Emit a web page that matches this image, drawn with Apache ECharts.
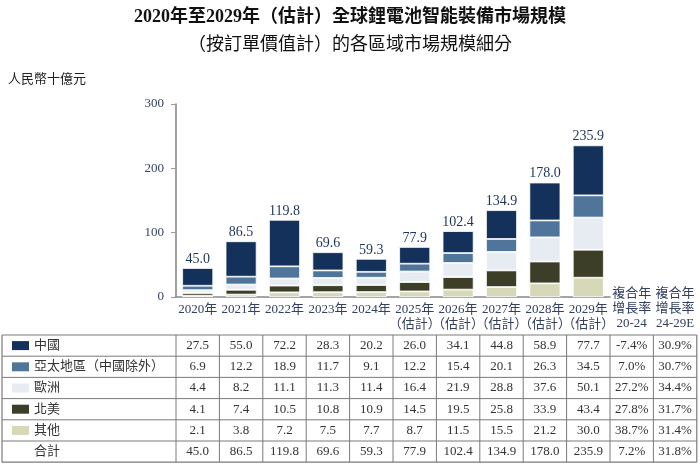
<!DOCTYPE html>
<html><head><meta charset="utf-8">
<script src="https://cdn.jsdelivr.net/npm/echarts@6/dist/echarts.min.js"></script>
<style>html,body{margin:0;padding:0;background:#fff}#c{width:700px;height:466px}</style>
</head><body><div id="c"></div>
<script>
const categories = ['2020年','2021年','2022年','2023年','2024年','2025年\n（估計）','2026年\n（估計）','2027年\n（估計）','2028年\n（估計）','2029年\n（估計）'];
const seriesNames = ['中國','亞太地區（中國除外）','歐洲','北美','其他'];
const china = [27.5,55.0,72.2,28.3,20.2,26.0,34.1,44.8,58.9,77.7];
const apac = [6.9,12.2,18.9,11.7,9.1,12.2,15.4,20.1,26.3,34.5];
const europe = [4.4,8.2,11.1,11.3,11.4,16.4,21.9,28.8,37.6,50.1];
const northAmerica = [4.1,7.4,10.5,10.8,10.9,14.5,19.5,25.8,33.9,43.4];
const others = [2.1,3.8,7.2,7.5,7.7,8.7,11.5,15.5,21.2,30.0];
const totals = [45.0,86.5,119.8,69.6,59.3,77.9,102.4,134.9,178.0,235.9];
const totalLabel = '合計';
const cagrHeaders = ['複合年\n增長率\n20-24','複合年\n增長率\n24-29E'];
const cagr2024 = ['-7.4%','7.0%','27.2%','27.8%','38.7%','7.2%'];
const cagr2429 = ['30.9%','30.7%','34.4%','31.7%','31.4%','31.8%'];
const yTicks = [0,100,200,300];
const titleLines = ['2020年至2029年（估計）全球鋰電池智能裝備市場規模','（按訂單價值計）的各區域市場規模細分'];
const unitLabel = '人民幣十億元';

const colors = ['#13315b','#50759a','#e7ecf2','#3d3e28','#d7d8b7'];
const FONT = '"Liberation Serif","Noto Sans CJK TC",serif';
const seriesData = [china, apac, europe, northAmerica, others];

// stack bottom-up: others, NA, europe, apac, china
const order = [4,3,2,1,0];
const series = order.map(idx => {
  const s = {
    name: seriesNames[idx], type: 'bar', stack: 'total', barWidth: 31,
    data: seriesData[idx],
    itemStyle: {color: colors[idx], borderColor: '#fff', borderWidth: 0.8},
    emphasis: {disabled: true}
  };
  if (idx === 0) {
    s.label = {show: true, position: 'top', distance: 2, color: '#1c3358', fontSize: 14, fontFamily: FONT,
      formatter: p => totals[p.dataIndex].toFixed(1)};
  }
  return s;
});

const chart = echarts.init(document.getElementById('c'));
const option = {
  animation: false,
  backgroundColor: '#fff',
  grid: {left: 176, right: 90, top: 104, bottom: 169, outerBoundsMode: 'none'},
  xAxis: {type: 'category', data: categories,
    axisLine: {lineStyle: {color: '#888', width: 1.6}},
    axisTick: {show: false},
    axisLabel: {interval: 0, color: '#334060', fontSize: 13, fontFamily: FONT, lineHeight: 15, margin: 5}},
  yAxis: {type: 'value', min: yTicks[0], max: yTicks[yTicks.length-1], interval: 100,
    splitLine: {show: false},
    axisLine: {show: true, lineStyle: {color: '#888', width: 1.6}},
    axisTick: {show: true, length: 5, lineStyle: {color: '#999'}},
    axisLabel: {color: '#334060', fontSize: 13, fontFamily: FONT, margin: 12}},
  series: series
};
chart.setOption(option);

// table
const c0 = chart.convertToPixel({xAxisIndex: 0}, categories[0]);
const c1 = chart.convertToPixel({xAxisIndex: 0}, categories[1]);
const band = c1 - c0;
const nCols = categories.length + 2;
const colCenter = i => c0 + band * i;
const tableLeft = 2, labelRight = c0 - band/2;
const tableRight = labelRight + band * nCols;
const tableTop = 335, rowH = 21.2, nRows = 6;
const g = [];
const lineColor = '#7a7a7a';
function L(x1,y1,x2,y2,w){ g.push({type:'line', shape:{x1,y1,x2,y2}, style:{stroke: lineColor, lineWidth: w||1}, silent:true}); }
for (let r = 0; r <= nRows; r++) L(tableLeft, tableTop + r*rowH, tableRight, tableTop + r*rowH, (r===0||r===nRows)?1.2:1);
L(tableLeft, tableTop, tableLeft, tableTop + nRows*rowH, 1.2);
for (let ci = 0; ci <= nCols; ci++) { const x = labelRight + band*ci; L(x, tableTop, x, tableTop + nRows*rowH, ci===nCols?1.2:1); }
function T(x,y,text,opts){ g.push(Object.assign({type:'text', x, y, style:Object.assign({text, font: '13px '+FONT, fill:'#333', textAlign:'center', textVerticalAlign:'middle'}, opts||{}), silent:true})); }
const rowsVals = seriesData.concat([totals]);
const rowLabels = seriesNames.concat([totalLabel]);
for (let r = 0; r < nRows; r++) {
  const yc = tableTop + rowH*r + rowH/2;
  if (r < 5) g.push({type:'rect', shape:{x:12, y:yc-4.5, width:17, height:9}, style:{fill: colors[r]}, silent:true});
  T(34, yc, rowLabels[r], {textAlign:'left', fill:'#333'});
  rowsVals[r].forEach((v,i) => T(colCenter(i), yc, v.toFixed(1)));
  T(colCenter(10), yc, cagr2024[r]);
  T(colCenter(11), yc, cagr2429[r]);
}
// CAGR headers under the axis
cagrHeaders.forEach((h,i) => T(colCenter(10+i), 286, h, {textVerticalAlign:'top', lineHeight: 15, fill:'#334060'}));
// titles
T(350, 17, titleLines[0], {font: 'bold 18px '+FONT, fill:'#111'});
T(350, 45, titleLines[1], {font: '18px '+FONT, fill:'#111'});
T(8, 80, unitLabel, {textAlign:'left', fill:'#222'});
chart.setOption({graphic: g});
</script></body></html>
